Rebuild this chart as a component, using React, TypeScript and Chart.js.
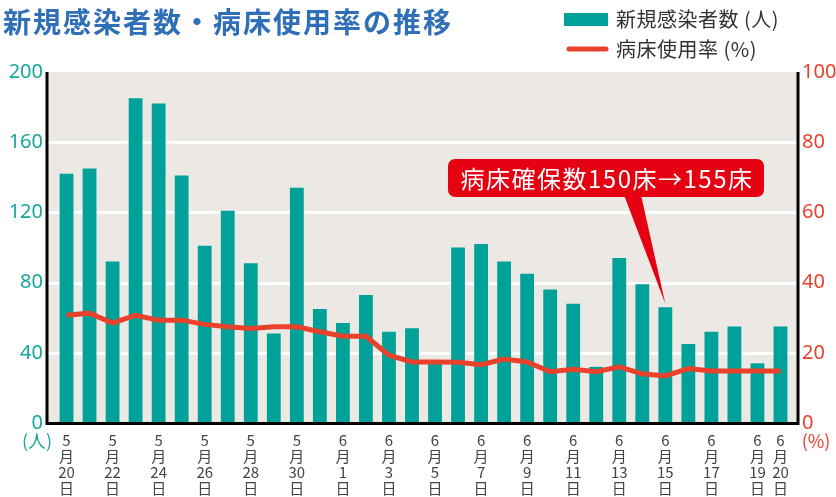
import React, { useEffect, useRef } from 'react';
import { Chart, registerables } from 'chart.js';

Chart.register(...registerables);

const categories = [
  '5/20', '5/21', '5/22', '5/23', '5/24', '5/25', '5/26', '5/27', '5/28', '5/29', '5/30', '5/31',
  '6/1', '6/2', '6/3', '6/4', '6/5', '6/6', '6/7', '6/8', '6/9', '6/10', '6/11', '6/12',
  '6/13', '6/14', '6/15', '6/16', '6/17', '6/18', '6/19', '6/20',
];

const newCases = [
  142, 145, 92, 185, 182, 141, 101, 121, 91, 51, 134, 65,
  57, 73, 52, 54, 35, 100, 102, 92, 85, 76, 68, 32,
  94, 79, 66, 45, 52, 55, 34, 55,
];

const bedRate = [
  30.7, 31.3, 28.5, 30.7, 29.3, 29.3, 28.1, 27.4, 26.9, 27.4, 27.4, 26.0,
  24.7, 24.7, 19.3, 17.4, 17.4, 17.3, 16.6, 18.2, 17.4, 14.6, 15.3, 14.6,
  16.0, 14.0, 13.4, 15.5, 14.8, 14.8, 14.8, 14.8,
];

const shownTicks = [
  '5/20', '5/22', '5/24', '5/26', '5/28', '5/30', '6/1', '6/3', '6/5', '6/7',
  '6/9', '6/11', '6/13', '6/15', '6/17', '6/19', '6/20',
];

const leftGrid = [40, 80, 120, 160];

const title = '新規感染者数・病床使用率の推移';
const legendCases = '新規感染者数 (人)';
const legendRate = '病床使用率 (%)';
const noteText = '病床確保数150床→155床';
const noteCategory = '6/15';
const noteTipValue = 68;

const TEAL = '#00a199';
const TEAL_TEXT = '#17a79c';
const RED = '#e8412c';
const NOTE_RED = '#e50012';
const JP = '"Noto Sans CJK JP", "Noto Sans", sans-serif';

const decor = {
  id: 'decor',
  beforeDatasetsDraw(chart: any) {
    const { ctx } = chart;
    const y = chart.scales.y;
    const top = y.getPixelForValue(200);
    const bottom = y.getPixelForValue(0);
    ctx.save();
    ctx.fillStyle = '#ece9e4';
    ctx.fillRect(48, top, 750, bottom - top);
    ctx.strokeStyle = '#ffffff';
    ctx.lineWidth = 3;
    for (const v of leftGrid) {
      const py = Math.round(y.getPixelForValue(v)) + 0.5;
      ctx.beginPath();
      ctx.moveTo(48, py);
      ctx.lineTo(798, py);
      ctx.stroke();
    }
    ctx.restore();
  },
  afterDatasetsDraw(chart: any) {
    const { ctx } = chart;
    const y = chart.scales.y;
    const x = chart.scales.x;
    const top = y.getPixelForValue(200);
    const bottom = y.getPixelForValue(0);
    ctx.save();
    // axis lines
    ctx.strokeStyle = '#000';
    ctx.lineWidth = 3;
    ctx.beginPath();
    ctx.moveTo(47, top);
    ctx.lineTo(47, bottom + 1.5);
    ctx.moveTo(45.5, bottom + 0.5);
    ctx.lineTo(799.5, bottom + 0.5);
    ctx.moveTo(798, top);
    ctx.lineTo(798, bottom + 1.5);
    ctx.stroke();

    // annotation
    const tipX = x.getPixelForValue(categories.indexOf(noteCategory));
    const tipY = y.getPixelForValue(noteTipValue);
    const bx = 448, by = 159, bw = 316, bh = 38, r = 7;
    ctx.fillStyle = NOTE_RED;
    ctx.beginPath();
    ctx.moveTo(624, by + bh - 2);
    ctx.lineTo(641, by + bh - 2);
    ctx.lineTo(tipX, tipY);
    ctx.closePath();
    ctx.fill();
    ctx.beginPath();
    ctx.roundRect(bx, by, bw, bh, r);
    ctx.fill();
    ctx.fillStyle = '#ffffff';
    ctx.font = `24px ${JP}`;
    (ctx as any).letterSpacing = '1.5px';
    ctx.textAlign = 'center';
    ctx.textBaseline = 'middle';
    ctx.fillText(noteText, bx + bw / 2 + 1, by + bh / 2 + 1);
    (ctx as any).letterSpacing = '0px';
    ctx.restore();
  },
  afterDraw(chart: any) {
    const { ctx } = chart;
    ctx.save();
    // title
    ctx.fillStyle = '#2f6fb8';
    ctx.font = `bold 28px ${JP}`;
    (ctx as any).letterSpacing = '2px';
    ctx.textAlign = 'left';
    ctx.textBaseline = 'middle';
    ctx.fillText(title, 3, 22);
    (ctx as any).letterSpacing = '0px';

    // legend
    ctx.fillStyle = TEAL;
    ctx.fillRect(564, 13, 44, 13);
    ctx.strokeStyle = RED;
    ctx.lineWidth = 5;
    ctx.lineCap = 'round';
    ctx.beginPath();
    ctx.moveTo(569, 49);
    ctx.lineTo(606, 49);
    ctx.stroke();
    ctx.fillStyle = '#333';
    ctx.font = `20px ${JP}`;
    (ctx as any).letterSpacing = '0.5px';
    ctx.fillText(legendCases, 616, 19);
    ctx.fillText(legendRate, 616, 49);
    (ctx as any).letterSpacing = '0px';

    // unit labels
    ctx.font = `18px ${JP}`;
    ctx.textAlign = 'center';
    ctx.fillStyle = TEAL_TEXT;
    ctx.fillText('(人)', 37, 441);
    ctx.fillStyle = RED;
    ctx.fillText('(%)', 816, 441);
    ctx.restore();
  },
};

export default function App() {
  const ref = useRef<HTMLCanvasElement | null>(null);

  useEffect(() => {
    if (!ref.current) return;
    const chart = new Chart(ref.current, {
      type: 'bar',
      data: {
        labels: categories,
        datasets: [
          {
            type: 'line',
            label: legendRate,
            data: bedRate,
            yAxisID: 'y1',
            borderColor: RED,
            borderWidth: 5,
            pointRadius: 0,
            tension: 0,
            order: 0,
          } as any,
          {
            type: 'bar',
            label: legendCases,
            data: newCases,
            yAxisID: 'y',
            backgroundColor: TEAL,
            barPercentage: 0.6,
            categoryPercentage: 1,
            order: 1,
          },
        ],
      },
      options: {
        responsive: false,
        animation: false,
        devicePixelRatio: 1,
        layout: { padding: { top: 72, left: 0, right: 0, bottom: 0 } },
        plugins: {
          legend: { display: false },
          tooltip: { enabled: false },
          title: { display: false },
        },
        scales: {
          x: {
            grid: { display: false, drawTicks: false },
            border: { display: false },
            afterFit: (s: any) => { s.height = 74; },
            ticks: {
              autoSkip: false,
              maxRotation: 0,
              minRotation: 0,
              padding: 9,
              color: '#444',
              font: { family: JP, size: 15, lineHeight: 1.08 },
              callback: (_v: any, i: number) => {
                const c = categories[i];
                if (!shownTicks.includes(c)) return '';
                const [m, d] = c.split('/');
                return [m, '月', d, '日'];
              },
            },
          },
          y: {
            position: 'left',
            min: 0,
            max: 200,
            grid: { display: false, drawTicks: false },
            border: { display: false },
            afterFit: (s: any) => { s.width = 55; },
            ticks: {
              stepSize: 40,
              padding: 12,
              color: TEAL_TEXT,
              font: { family: '"Noto Sans", sans-serif', size: 20 },
            },
          },
          y1: {
            position: 'right',
            min: 0,
            max: 100,
            grid: { display: false, drawTicks: false },
            border: { display: false },
            afterFit: (s: any) => { s.width = 44; },
            ticks: {
              stepSize: 20,
              padding: 10,
              color: RED,
              font: { family: '"Noto Sans", sans-serif', size: 20 },
            },
          },
        },
      },
      plugins: [decor],
    });
    return () => chart.destroy();
  }, []);

  return (
    <div style={{ position: 'absolute', left: 0, top: 0, width: 836, height: 497, background: '#fff' }}>
      <canvas ref={ref} width={836} height={497} />
    </div>
  );
}
